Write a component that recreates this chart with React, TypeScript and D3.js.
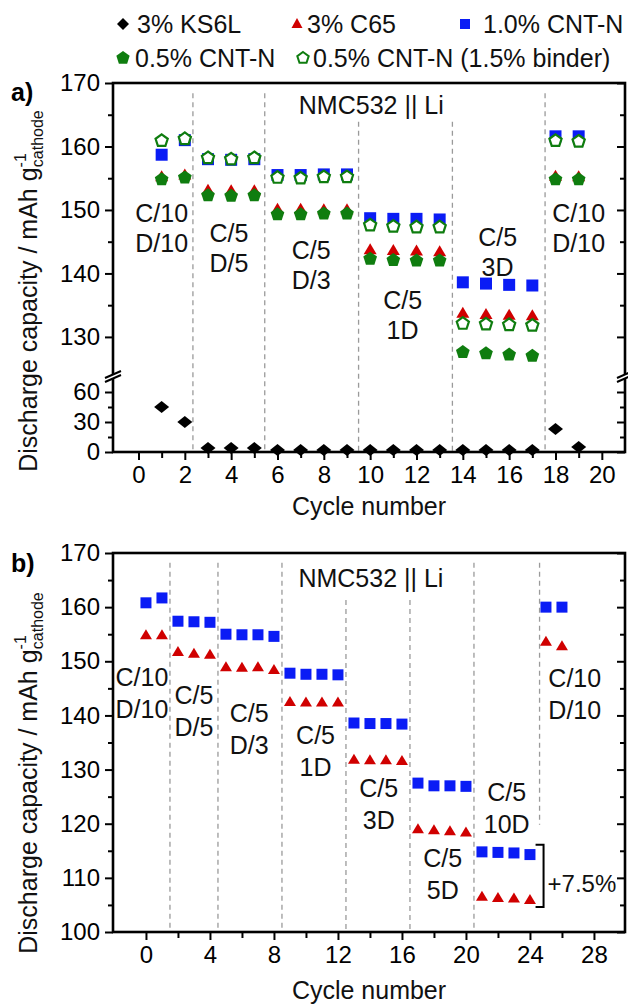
import { useEffect, useRef } from "react";
import * as d3 from "d3";

const W = 628;
const H = 1005;
const FONT = "'Liberation Sans', Arial, Helvetica, sans-serif";
const BLUE = "#0a1cf5";
const RED = "#d00000";
const GREEN = "#0f7d0f";

// ---- panel a data ----
const cyclesA = [1, 2, 3, 4, 5, 6, 7, 8, 9, 10, 11, 12, 13, 14, 15, 16, 17, 18, 19];
const ks6lA = [45, 30, 4, 4, 4, 2, 2, 2, 2, 2, 2, 2, 2, 2, 2, 2, 2, 23, 5];
const c65A = [155.2, 155.5, 153.1, 153.0, 153.0, 150.1, 150.1, 150.0, 150.0, 143.7, 143.6, 143.5, 143.4, 133.7, 133.5, 133.4, 133.3, 155.3, 155.2];
const cnt10A = [158.7, 161.0, 158.0, 157.9, 158.0, 155.5, 155.5, 155.6, 155.6, 148.7, 148.6, 148.6, 148.5, 138.6, 138.4, 138.2, 138.1, 161.6, 161.6];
const cnt05A = [154.8, 155.1, 152.3, 152.2, 152.3, 149.3, 149.3, 149.4, 149.4, 142.3, 142.1, 142.0, 142.0, 127.6, 127.4, 127.2, 127.0, 154.8, 154.8];
const cnt05binderA = [160.9, 161.2, 158.2, 158.0, 158.2, 155.1, 155.0, 155.2, 155.2, 147.6, 147.4, 147.3, 147.3, 132.1, 132.0, 131.9, 131.8, 160.9, 160.8];

const dividersA = [2.35, 5.45, 9.5, 13.55, 17.55];
const dividerTopsA = [168.4, 168.4, 163.9, 163.9, 168.4];
const ratesA = [
  { lines: ["C/10", "D/10"], x: 1.0, y: 149.5 },
  { lines: ["C/5", "D/5"], x: 3.9, y: 146.4 },
  { lines: ["C/5", "D/3"], x: 7.45, y: 143.7 },
  { lines: ["C/5", "1D"], x: 11.4, y: 135.8 },
  { lines: ["C/5", "3D"], x: 15.5, y: 145.7 },
  { lines: ["C/10", "D/10"], x: 19.0, y: 149.5 },
];

// ---- panel b data ----
const cyclesB = [0, 1, 2, 3, 4, 5, 6, 7, 8, 9, 10, 11, 12, 13, 14, 15, 16, 17, 18, 19, 20, 21, 22, 23, 24, 25, 26];
const cnt10B = [160.8, 161.7, 157.4, 157.3, 157.2, 155.0, 154.9, 154.9, 154.6, 147.8, 147.6, 147.6, 147.5, 138.6, 138.5, 138.5, 138.4, 127.5, 127.0, 127.0, 126.9, 114.8, 114.7, 114.6, 114.3, 160.0, 160.0];
const c65B = [154.8, 154.8, 151.7, 151.4, 151.2, 148.9, 148.8, 148.9, 148.4, 142.5, 142.4, 142.4, 142.4, 131.8, 131.7, 131.7, 131.6, 119.0, 118.8, 118.6, 118.4, 106.5, 106.3, 106.2, 105.9, 153.6, 152.8];

const dividersB = [1.5, 4.5, 8.5, 12.5, 16.5, 20.5, 24.6];
const dividerTopsB = [168.2, 168.2, 168.2, 161.3, 161.3, 168.2, 168.2];
const dividerBottomsB = [100, 100, 100, 100, 100, 100, 119.8];
const ratesB = [
  { lines: ["C/10", "D/10"], x: -0.25, y: 147.1 },
  { lines: ["C/5", "D/5"], x: 3.0, y: 143.8 },
  { lines: ["C/5", "D/3"], x: 6.45, y: 140.5 },
  { lines: ["C/5", "1D"], x: 10.6, y: 136.4 },
  { lines: ["C/5", "3D"], x: 14.55, y: 126.6 },
  { lines: ["C/5", "5D"], x: 18.55, y: 113.7 },
  { lines: ["C/5", "10D"], x: 22.55, y: 125.9 },
  { lines: ["C/10", "D/10"], x: 26.8, y: 146.9 },
];

const legendItems = ["3% KS6L", "3% C65", "1.0% CNT-N", "0.5% CNT-N", "0.5% CNT-N (1.5% binder)"];

// marker shapes centred on 0,0
const squarePath = (s: number) => `M${-s / 2},${-s / 2}h${s}v${s}h${-s}Z`;
const trianglePath = (w: number, h: number) => `M0,${-h * 0.6}L${w / 2},${h * 0.4}L${-w / 2},${h * 0.4}Z`;
const diamondPath = (w: number, h: number) => `M0,${-h / 2}L${w / 2},0L0,${h / 2}L${-w / 2},0Z`;
const pentagonPath = (r: number) =>
  d3.range(5).map((k) => {
    const a = (-90 + 72 * k) * Math.PI / 180;
    return `${k === 0 ? "M" : "L"}${(r * Math.cos(a)).toFixed(2)},${(r * Math.sin(a)).toFixed(2)}`;
  }).join("") + "Z";

const MARK = {
  diamond: diamondPath(15, 12),
  triangle: trianglePath(13, 11),
  square: squarePath(12),
  pentagon: pentagonPath(7.2),
};

function plotSeries(g: any, xs: number[], ys: number[], x: any, y: any, d: string, fill: string, stroke = "none", sw = 0) {
  g.append("g")
    .selectAll("path")
    .data(ys)
    .join("path")
    .attr("transform", (v: number, i: number) => `translate(${x(xs[i])},${y(v)})`)
    .attr("d", d)
    .attr("fill", fill)
    .attr("stroke", stroke)
    .attr("stroke-width", sw);
}

function styleAxis(sel: any) {
  sel.attr("font-size", 24).attr("font-family", FONT);
  sel.select(".domain").remove();
  sel.selectAll("line").attr("stroke", "#000").attr("stroke-width", 2);
  sel.selectAll("text").attr("fill", "#000");
}

function rateLabels(g: any, labels: any[], x: any, y: any, gap: number) {
  labels.forEach((l) => {
    const t = g.append("text")
      .attr("x", x(l.x))
      .attr("y", y(l.y))
      .attr("text-anchor", "middle")
      .attr("font-size", 25)
      .attr("font-family", FONT)
      .attr("fill", "#111");
    l.lines.forEach((s: string, i: number) => {
      t.append("tspan").attr("x", x(l.x)).attr("dy", i === 0 ? "0.36em" : gap).text(s);
    });
  });
}

function yTitle(svg: any, cx: number, cy: number) {
  const t = svg.append("text")
    .attr("transform", `translate(${cx},${cy}) rotate(-90)`)
    .attr("text-anchor", "middle")
    .attr("font-size", 25)
    .attr("font-family", FONT)
    .attr("fill", "#111");
  t.append("tspan").text("Discharge capacity / mAh g");
  t.append("tspan").attr("font-size", 16).attr("dy", -11).text("-1");
  t.append("tspan").attr("font-size", 16).attr("dx", -14).attr("dy", 17).text("cathode");
}

function drawChart(el: SVGSVGElement) {
  const svg = d3.select(el);
  svg.selectAll("*").remove();

  // ---------------- legend ----------------
  const leg = svg.append("g").attr("font-family", FONT).attr("font-size", 25).attr("fill", "#111");
  const legMarks = [
    { d: diamondPath(12, 12), fill: "#000", stroke: "none", x: 123, y: 24 },
    { d: trianglePath(11, 10), fill: RED, stroke: "none", x: 297, y: 24 },
    { d: squarePath(10), fill: BLUE, stroke: "none", x: 465, y: 24 },
    { d: pentagonPath(7), fill: GREEN, stroke: "none", x: 123, y: 58 },
    { d: pentagonPath(6), fill: "#fff", stroke: GREEN, x: 303, y: 58 },
  ];
  const legTextX = [137, 307, 483, 135, 313];
  legendItems.forEach((name, i) => {
    const m = legMarks[i];
    leg.append("path").attr("transform", `translate(${m.x},${m.y})`).attr("d", m.d)
      .attr("fill", m.fill).attr("stroke", m.stroke).attr("stroke-width", 2);
    leg.append("text").attr("x", legTextX[i]).attr("y", m.y).attr("dy", "0.36em").text(name);
  });

  // ---------------- panel a ----------------
  const L = 113, R = 625;
  const TA = 83, BA = 452, BRK = 376;
  const xA = d3.scaleLinear().domain([-1.1, 21]).range([L, R]);
  const yUp = d3.scaleLinear().domain([124, 170]).range([375, TA]);
  const yLow = d3.scaleLinear().domain([0, 75]).range([BA, 377]);
  const ga = svg.append("g");

  // dashed dividers
  ga.append("g").selectAll("line").data(dividersA).join("line")
    .attr("x1", (d) => xA(d)).attr("x2", (d) => xA(d))
    .attr("y1", (d, i) => yUp(dividerTopsA[i])).attr("y2", BA)
    .attr("stroke", "#9a9a9a").attr("stroke-width", 1.3).attr("stroke-dasharray", "5,4");

  // axes
  const axA = ga.append("g").attr("transform", `translate(0,${BA})`)
    .call(d3.axisBottom(xA).tickValues(d3.range(0, 21, 2)).tickSize(8).tickPadding(6));
  styleAxis(axA);
  const axAm = ga.append("g").attr("transform", `translate(0,${BA})`)
    .call(d3.axisBottom(xA).tickValues(d3.range(1, 20, 2)).tickSize(6).tickFormat(() => ""));
  styleAxis(axAm);
  const ayUp = ga.append("g").attr("transform", `translate(${L},0)`)
    .call(d3.axisLeft(yUp).tickValues([130, 140, 150, 160, 170]).tickSize(8).tickPadding(5));
  styleAxis(ayUp);
  const ayUpM = ga.append("g").attr("transform", `translate(${L},0)`)
    .call(d3.axisLeft(yUp).tickValues([135, 145, 155, 165]).tickSize(5).tickFormat(() => ""));
  styleAxis(ayUpM);
  const ayLow = ga.append("g").attr("transform", `translate(${L},0)`)
    .call(d3.axisLeft(yLow).tickValues([0, 30, 60]).tickSize(8).tickPadding(5));
  styleAxis(ayLow);
  const ayLowM = ga.append("g").attr("transform", `translate(${L},0)`)
    .call(d3.axisLeft(yLow).tickValues([15, 45, 75]).tickSize(5).tickFormat(() => ""));
  styleAxis(ayLowM);
  const ayUpR = ga.append("g").attr("transform", `translate(${R},0)`)
    .call(d3.axisRight(yUp).tickValues([130, 140, 150, 160, 170]).tickSize(-8).tickFormat(() => ""));
  styleAxis(ayUpR);
  const ayUpRM = ga.append("g").attr("transform", `translate(${R},0)`)
    .call(d3.axisRight(yUp).tickValues([135, 145, 155, 165]).tickSize(-5).tickFormat(() => ""));
  styleAxis(ayUpRM);
  const ayLowR = ga.append("g").attr("transform", `translate(${R},0)`)
    .call(d3.axisRight(yLow).tickValues([0, 30, 60]).tickSize(-8).tickFormat(() => ""));
  styleAxis(ayLowR);
  const ayLowRM = ga.append("g").attr("transform", `translate(${R},0)`)
    .call(d3.axisRight(yLow).tickValues([15, 45, 75]).tickSize(-5).tickFormat(() => ""));
  styleAxis(ayLowRM);

  ga.append("rect").attr("x", L).attr("y", TA).attr("width", R - L).attr("height", BA - TA)
    .attr("fill", "none").attr("stroke", "#000").attr("stroke-width", 2.6);

  // axis break marks
  [L, R].forEach((bx) => {
    ga.append("path").attr("d", `M${bx - 8},${BRK + 2}L${bx + 8},${BRK - 5}L${bx + 8},${BRK - 1}L${bx - 8},${BRK + 6}Z`)
      .attr("fill", "#fff");
    ga.append("path").attr("d", `M${bx - 8},${BRK + 2}L${bx + 8},${BRK - 5}M${bx - 8},${BRK + 6}L${bx + 8},${BRK - 1}`)
      .attr("stroke", "#000").attr("stroke-width", 2);
  });

  // series
  plotSeries(ga, cyclesA, ks6lA, xA, yLow, MARK.diamond, "#000");
  plotSeries(ga, cyclesA, c65A, xA, yUp, MARK.triangle, RED);
  plotSeries(ga, cyclesA, cnt10A, xA, yUp, MARK.square, BLUE);
  plotSeries(ga, cyclesA, cnt05A, xA, yUp, MARK.pentagon, GREEN);
  plotSeries(ga, cyclesA, cnt05binderA, xA, yUp, pentagonPath(6.4), "#fff", GREEN, 2.2);

  rateLabels(ga, ratesA, xA, yUp, 30);
  ga.append("text").attr("x", xA(10.05)).attr("y", yUp(166.5)).attr("dy", "0.36em")
    .attr("text-anchor", "middle").attr("font-size", 25).attr("font-family", FONT).attr("fill", "#111")
    .text("NMC532 || Li");
  ga.append("text").attr("x", 11).attr("y", 92).attr("dy", "0.36em").attr("font-size", 25)
    .attr("font-weight", "bold").attr("font-family", FONT).text("a)");
  ga.append("text").attr("x", (L + R) / 2).attr("y", 515).attr("text-anchor", "middle")
    .attr("font-size", 25).attr("font-family", FONT).attr("fill", "#111").text("Cycle number");
  yTitle(svg, 37, 291);

  // ---------------- panel b ----------------
  const TB = 553, BB = 932;
  const xB = d3.scaleLinear().domain([-2.06, 29.94]).range([L, R]);
  const yB = d3.scaleLinear().domain([100, 170]).range([BB, TB]);
  const gb = svg.append("g");

  gb.append("g").selectAll("line").data(dividersB).join("line")
    .attr("x1", (d) => xB(d)).attr("x2", (d) => xB(d))
    .attr("y1", (d, i) => yB(dividerTopsB[i])).attr("y2", (d, i) => yB(dividerBottomsB[i]))
    .attr("stroke", "#9a9a9a").attr("stroke-width", 1.3).attr("stroke-dasharray", "5,4");

  const axB = gb.append("g").attr("transform", `translate(0,${BB})`)
    .call(d3.axisBottom(xB).tickValues(d3.range(0, 29, 4)).tickSize(8).tickPadding(6));
  styleAxis(axB);
  const axBm = gb.append("g").attr("transform", `translate(0,${BB})`)
    .call(d3.axisBottom(xB).tickValues(d3.range(2, 29, 4)).tickSize(6).tickFormat(() => ""));
  styleAxis(axBm);
  const ayB = gb.append("g").attr("transform", `translate(${L},0)`)
    .call(d3.axisLeft(yB).tickValues(d3.range(100, 171, 10)).tickSize(8).tickPadding(5));
  styleAxis(ayB);
  const ayBm = gb.append("g").attr("transform", `translate(${L},0)`)
    .call(d3.axisLeft(yB).tickValues(d3.range(105, 170, 10)).tickSize(5).tickFormat(() => ""));
  styleAxis(ayBm);
  const ayBR = gb.append("g").attr("transform", `translate(${R},0)`)
    .call(d3.axisRight(yB).tickValues(d3.range(100, 171, 10)).tickSize(-8).tickFormat(() => ""));
  styleAxis(ayBR);
  const ayBRm = gb.append("g").attr("transform", `translate(${R},0)`)
    .call(d3.axisRight(yB).tickValues(d3.range(105, 170, 10)).tickSize(-5).tickFormat(() => ""));
  styleAxis(ayBRm);

  gb.append("rect").attr("x", L).attr("y", TB).attr("width", R - L).attr("height", BB - TB)
    .attr("fill", "none").attr("stroke", "#000").attr("stroke-width", 2.6);

  plotSeries(gb, cyclesB, c65B, xB, yB, trianglePath(12, 10), RED);
  plotSeries(gb, cyclesB, cnt10B, xB, yB, squarePath(11), BLUE);

  rateLabels(gb, ratesB, xB, yB, 32);
  gb.append("text").attr("x", xB(14.06)).attr("y", yB(165.4)).attr("dy", "0.36em")
    .attr("text-anchor", "middle").attr("font-size", 25).attr("font-family", FONT).attr("fill", "#111")
    .text("NMC532 || Li");

  // +7.5% bracket
  const bx = xB(24.85);
  gb.append("path")
    .attr("d", `M${bx - 8},${yB(116.1)}H${bx}V${yB(104.6)}H${bx - 8}`)
    .attr("fill", "none").attr("stroke", "#000").attr("stroke-width", 2);
  gb.append("text").attr("x", xB(25.1)).attr("y", yB(109.05)).attr("dy", "0.36em")
    .attr("font-size", 24).attr("font-family", FONT).attr("fill", "#111").text("+7.5%");

  gb.append("text").attr("x", 11).attr("y", 563).attr("dy", "0.36em").attr("font-size", 25)
    .attr("font-weight", "bold").attr("font-family", FONT).text("b)");
  gb.append("text").attr("x", (L + R) / 2).attr("y", 999).attr("text-anchor", "middle")
    .attr("font-size", 25).attr("font-family", FONT).attr("fill", "#111").text("Cycle number");
  yTitle(svg, 37, 773);
}

export default function App() {
  const ref = useRef<SVGSVGElement>(null);
  useEffect(() => {
    if (ref.current) drawChart(ref.current);
  }, []);
  return (
    <svg
      ref={ref}
      width={W}
      height={H}
      style={{ position: "absolute", left: 0, top: 0, background: "#fff" }}
    />
  );
}
